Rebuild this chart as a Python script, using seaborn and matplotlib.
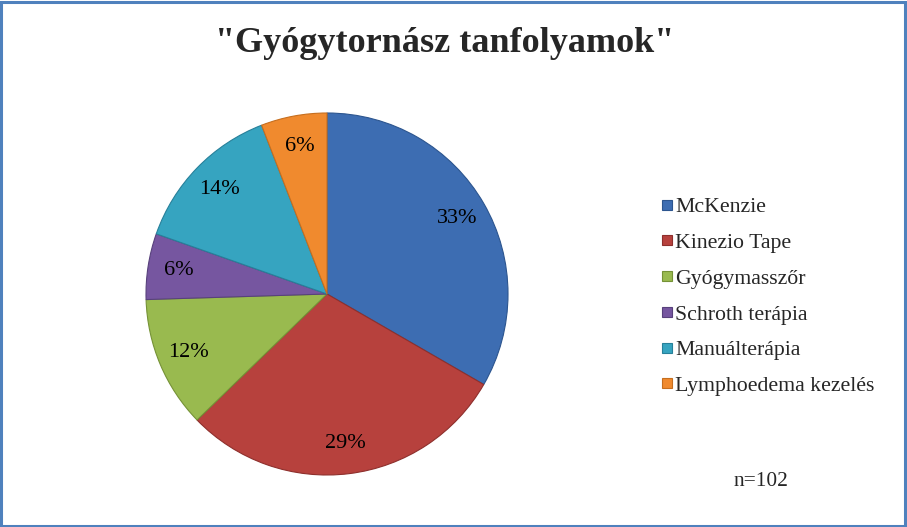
import matplotlib
matplotlib.use("Agg")
import matplotlib.pyplot as plt
import seaborn as sns
from matplotlib.lines import Line2D
from matplotlib.patches import Rectangle

categories = ["McKenzie", "Kinezio Tape", "Gyógymasszőr", "Schroth terápia",
              "Manuálterápia", "Lymphoedema kezelés"]
counts = [34, 30, 12, 6, 14, 6]
title = '"Gyógytornász tanfolyamok"'
note = "n=102"

sns.set_theme(style="white")
plt.rcParams['font.family'] = ['Liberation Serif', 'DejaVu Serif']

colors = sns.color_palette(["#3D6DB2", "#B7413D", "#99BA4F", "#7656A0", "#36A4C0", "#F08A2E"])
edges = sns.color_palette(["#2C558F", "#8E2F2C", "#759236", "#58417C", "#27809A", "#C66E1E"])

fig = plt.figure(figsize=(9.07, 5.27), dpi=100)
fig.patch.set_facecolor("white")
fig.add_artist(Rectangle((0.001, 0.002), 0.997, 0.995, transform=fig.transFigure,
                         fill=False, edgecolor="#4F81BD", linewidth=2.2))

W, H = 907, 527
cx, cy, r = 327, 294, 181
ax = fig.add_axes([(cx - r) / W, 1 - (cy + r) / H, 2 * r / W, 2 * r / H])
wedges, texts, autotexts = ax.pie(
    counts, colors=colors, startangle=90, counterclock=False,
    autopct="%.0f%%", pctdistance=0.83,
    wedgeprops=dict(linewidth=0.8),
    textprops=dict(fontsize=16, color="black"))
for w, e in zip(wedges, edges):
    w.set_edgecolor(e)
ax.set_aspect("equal")
ax.set_xlim(-1.0, 1.0)
ax.set_ylim(-1.0, 1.0)
ax.axis("off")

fig.text(445 / W, 1 - 44 / H, title, ha="center", va="center",
         fontsize=26, fontweight="bold")

handles = [Line2D([0], [0], marker="s", linestyle="none", markersize=7.2,
                  markerfacecolor=c, markeredgecolor=e, markeredgewidth=0.8)
           for c, e in zip(colors, edges)]
leg = fig.legend(handles, categories, loc="upper left",
                 bbox_to_anchor=(660 / W, 1 - 197 / H),
                 frameon=False, fontsize=15.7, handlelength=0.6,
                 handletextpad=0.1, labelspacing=0.71, borderaxespad=0,
                 borderpad=0)

fig.text(761 / W, 1 - 482 / H, note, ha="center", va="center", fontsize=15.4)

fig.savefig("out.png", dpi=100, facecolor=fig.get_facecolor())
